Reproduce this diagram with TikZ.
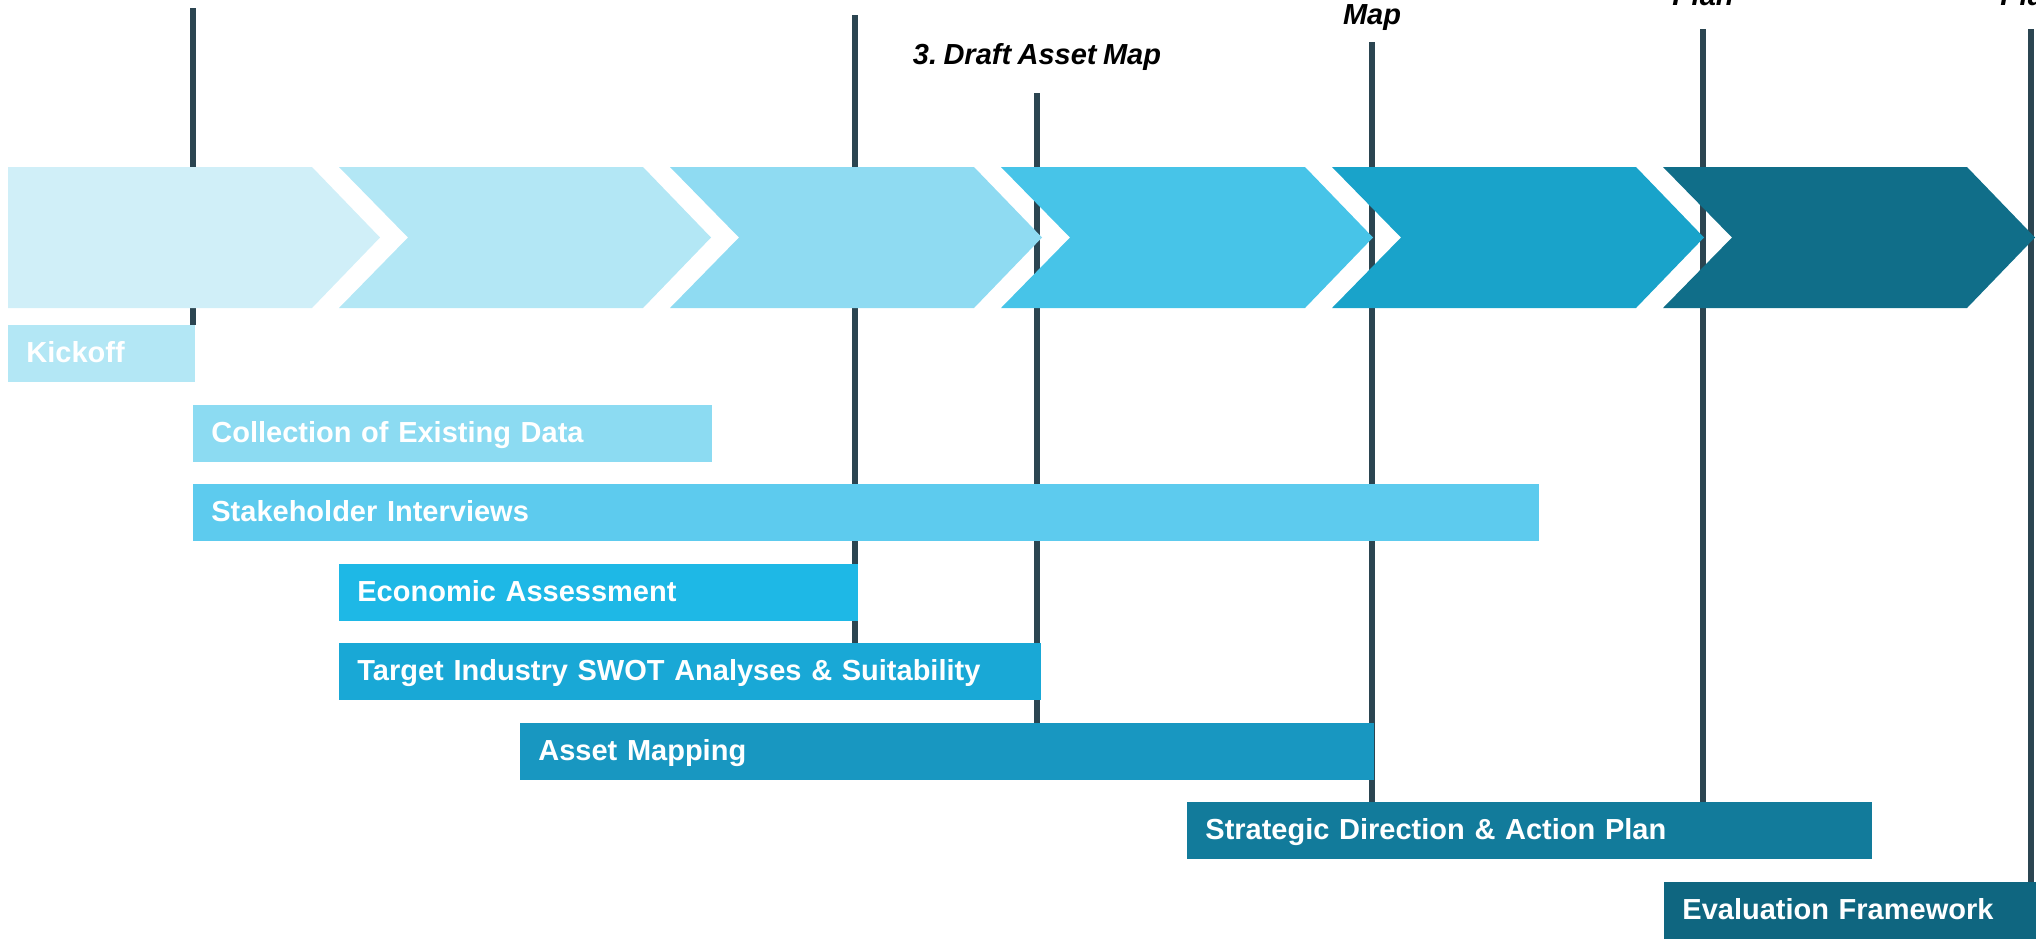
\documentclass[tikz,border=0pt]{standalone}
\usepackage{fontspec}
\setmainfont{Liberation Sans}[WordSpace=0.8]
\usetikzlibrary{calc}
\pgfdeclarelayer{bg}
\pgfsetlayers{bg,main}
\definecolor{chA}{HTML}{D0EFF8}
\definecolor{chB}{HTML}{B3E7F5}
\definecolor{chC}{HTML}{8FDBF2}
\definecolor{chD}{HTML}{47C4E8}
\definecolor{chE}{HTML}{19A3CA}
\definecolor{chF}{HTML}{106E89}
\definecolor{tKick}{HTML}{B3E7F5}
\definecolor{tColl}{HTML}{8CDBF2}
\definecolor{tStake}{HTML}{5DCBEE}
\definecolor{tEcon}{HTML}{1EB8E6}
\definecolor{tTarget}{HTML}{19A8D6}
\definecolor{tAsset}{HTML}{1897C1}
\definecolor{tStrat}{HTML}{127B9B}
\definecolor{tEval}{HTML}{0F6680}
\definecolor{msline}{HTML}{2B4551}
\tikzset{
  taskbox/.style={rectangle, draw=none, inner xsep=9pt, inner ysep=0pt,
    minimum height=28.5pt, text height=10.5pt, text depth=2pt, align=left,
    text=white, font=\fontsize{14.5pt}{17pt}\selectfont\bfseries},
  mslabel/.style={inner sep=0pt, text=black,
    font=\fontsize{14.5pt}{17pt}\selectfont\bfseries\itshape},
  milestone/.style={draw=msline, line width=2.8pt, line cap=butt},
}
\newcommand{\taskbar}[6]{%
  \pgfmathsetmacro\tbw{(#4-#2-36)*0.5}%
  \node[taskbox, fill=#5, text width=\tbw pt, anchor=north west] (#1) at (#2,#3) {#6};%
}
\newcommand{\chevron}[2]{%
  \pgfmathsetmacro\cL{8+331*#1}%
  \pgfmathsetmacro\cR{312+331*#1}%
  \pgfmathsetmacro\cT{380+331*#1}%
  \pgfmathsetmacro\cN{77+331*#1}%
  \fill[#2] (\cL,167) -- (\cR,167) -- (\cT,237.5) -- (\cR,308) -- (\cL,308) -- (\cN,237.5) -- cycle;%
}
\frenchspacing
\begin{document}
\begin{tikzpicture}[x=0.5pt,y=-0.5pt]
\useasboundingbox (0,0) rectangle (2036,938);
\clip (0,0) rectangle (2036,938);
% chevrons
\fill[chA] (8,167) -- (312,167) -- (380,237.5) -- (312,308) -- (8,308) -- cycle;
\chevron{1}{chB}
\chevron{2}{chC}
\chevron{3}{chD}
\chevron{4}{chE}
\chevron{5}{chF}
% task bars
\taskbar{kick}{8}{325}{195}{tKick}{Kickoff}
\taskbar{coll}{193}{405}{712}{tColl}{Collection of Existing Data}
\taskbar{stake}{193}{484}{1539}{tStake}{Stakeholder Interviews}
\taskbar{econ}{339}{564}{858}{tEcon}{Economic Assessment}
\taskbar{target}{339}{643}{1041}{tTarget}{Target Industry SWOT Analyses \& Suitability}
\taskbar{asset}{520}{723}{1374}{tAsset}{Asset Mapping}
\taskbar{strat}{1187}{802}{1872}{tStrat}{Strategic Direction \& Action Plan}
\taskbar{eval}{1664}{882}{2040}{tEval}{Evaluation Framework}
% milestone labels
\node[mslabel, anchor=base] (lab3) at (1037,64) {3. Draft Asset Map};
\node[mslabel, anchor=base] (lab4) at (1372,24) {Map};
\node[mslabel, anchor=base] (lab5) at (1703,5) {Plan};
\node[mslabel, anchor=base] (lab6) at (2031,5) {Plan};
% milestone lines
\coordinate (m1) at (193,8);
\coordinate (m2) at (855,15);
\coordinate (m3) at (1037,93);
\coordinate (m4) at (1372,42);
\coordinate (m5) at (1703,29);
\coordinate (m6) at (2031,29);
\begin{pgfonlayer}{bg}
\draw[milestone] (m1) -- (m1 |- kick.north);
\draw[milestone] (m2) -- (m2 |- target.north);
\draw[milestone] (m3) -- (m3 |- asset.north);
\draw[milestone] (m4) -- (m4 |- strat.north);
\draw[milestone] (m5) -- (m5 |- strat.north);
\draw[milestone] (m6) -- (m6 |- eval.north);
\end{pgfonlayer}
\end{tikzpicture}
\end{document}
